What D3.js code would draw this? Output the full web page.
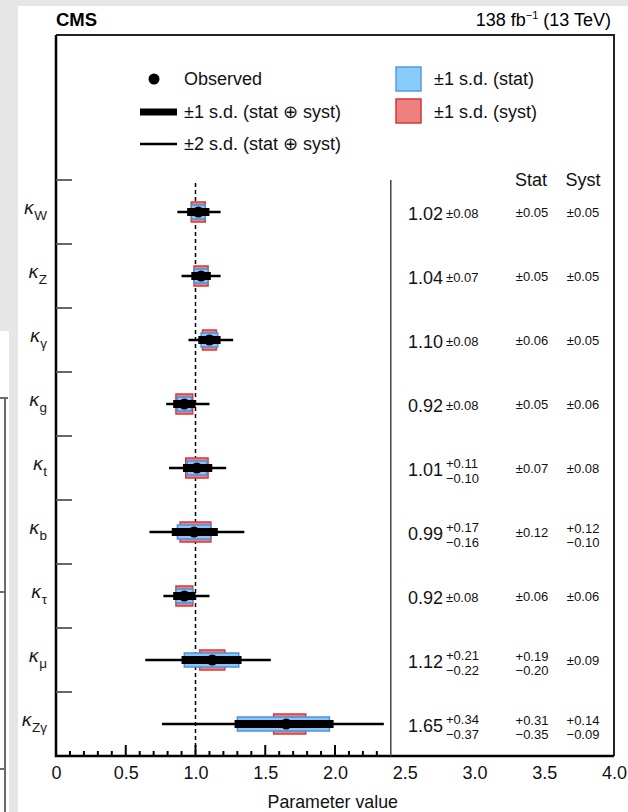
<!DOCTYPE html>
<html>
<head>
<meta charset="utf-8">
<title>Coupling modifiers</title>
<script src="https://cdn.jsdelivr.net/npm/d3@7"></script>
<style>
  body { margin: 0; background: #e6e6e6; }
  svg { display: block; font-family: "Liberation Sans", Arial, Helvetica, sans-serif; }
</style>
</head>
<body>
<div id="chart"></div>
<script>
// coupling modifiers (subscript of kappa), top to bottom
var params  = ["W", "Z", "γ", "g", "t", "b", "τ", "μ", "Zγ"];
var central = [1.02, 1.04, 1.10, 0.92, 1.01, 0.99, 0.92, 1.12, 1.65];
// total (stat + syst) 1 s.d.
var totUp   = [0.08, 0.07, 0.08, 0.08, 0.11, 0.17, 0.08, 0.21, 0.34];
var totDn   = [0.08, 0.07, 0.08, 0.08, 0.10, 0.16, 0.08, 0.22, 0.37];
var statUp  = [0.05, 0.05, 0.06, 0.05, 0.07, 0.12, 0.06, 0.19, 0.31];
var statDn  = [0.05, 0.05, 0.06, 0.05, 0.07, 0.12, 0.06, 0.20, 0.35];
var systUp  = [0.05, 0.05, 0.05, 0.06, 0.08, 0.12, 0.06, 0.09, 0.14];
var systDn  = [0.05, 0.05, 0.05, 0.06, 0.08, 0.10, 0.06, 0.09, 0.09];
// 2 s.d. interval edges
var lo2     = [0.87, 0.90, 0.95, 0.79, 0.81, 0.67, 0.77, 0.64, 0.76];
var hi2     = [1.18, 1.18, 1.27, 1.10, 1.22, 1.35, 1.10, 1.54, 2.35];
var xTicks  = [0, 0.5, 1.0, 1.5, 2.0, 2.5, 3.0, 3.5, 4.0];

var W = 628, H = 812;
var frame = {left: 56, right: 614, top: 35, bottom: 756};

var svg = d3.select("#chart").append("svg")
    .attr("width", W).attr("height", H);

// screenshot background: grey page, white panel, bits of another window
svg.append("rect").attr("width", W).attr("height", H).attr("fill", "#e6e6e6");
svg.append("rect").attr("x", 18).attr("y", 6).attr("width", W - 18).attr("height", H - 6).attr("fill", "#fff");
svg.append("rect").attr("x", 0).attr("y", 331).attr("width", 9).attr("height", H - 331).attr("fill", "#fff");
svg.append("path").attr("d", "M0,398H8M5,398V812M0,592H5M0,769H5")
    .attr("stroke", "#6b6b6b").attr("stroke-width", 2).attr("fill", "none");

var x = d3.scaleLinear().domain([0, 4]).range([frame.left, frame.right]);
var y = d3.scaleBand().domain(params).range([180, frame.bottom]);
var yc = function(p) { return y(p) + y.bandwidth() / 2; };

var fmt = d3.format(".2f");
var minus = "\u2212";

// header
svg.append("text").attr("x", 56).attr("y", 26)
    .attr("font-size", 18.5).attr("font-weight", "bold").text("CMS");
var lumi = svg.append("text").attr("x", 611).attr("y", 26)
    .attr("text-anchor", "end").attr("font-size", 18);
lumi.append("tspan").text("138 fb");
lumi.append("tspan").attr("font-size", 11).attr("dy", -7).text(minus + "1");
lumi.append("tspan").attr("dy", 7).text(" (13 TeV)");

// frame
svg.append("path")
    .attr("d", "M" + frame.left + "," + frame.top + "H" + frame.right + "V" + frame.bottom)
    .attr("stroke", "#222").attr("stroke-width", 2).attr("fill", "none");
svg.append("path")
    .attr("d", "M" + frame.left + "," + frame.top + "V" + frame.bottom + "H" + frame.right)
    .attr("stroke", "#000").attr("stroke-width", 2.5).attr("fill", "none");

// y ticks at row boundaries
svg.selectAll(".ytick").data(params).enter().append("line")
    .attr("x1", frame.left).attr("x2", 72)
    .attr("y1", function(d) { return y(d); }).attr("y2", function(d) { return y(d); })
    .attr("stroke", "#555").attr("stroke-width", 1.8);

// y labels: kappa with subscript
var lab = svg.selectAll(".ylab").data(params).enter().append("text")
    .attr("x", 47).attr("y", function(d) { return yc(d) + 2; })
    .attr("text-anchor", "end").attr("fill", "#1a1a1a");
lab.append("tspan").attr("font-size", 18).attr("font-family", "DejaVu Sans, sans-serif")
    .attr("font-style", "oblique").text("κ");
lab.append("tspan").attr("font-size", 13.5).attr("dy", 6).text(function(d) { return d; });

// x ticks
var minor = d3.range(1, 24).map(function(i) { return i / 10; }).filter(function(v) { return Math.round(v * 10) % 5 !== 0; });
var major = [0.5, 1.0, 1.5, 2.0];
svg.selectAll(".minor").data(minor).enter().append("line")
    .attr("x1", function(d) { return x(d); }).attr("x2", function(d) { return x(d); })
    .attr("y1", frame.bottom).attr("y2", frame.bottom - 5)
    .attr("stroke", "#000").attr("stroke-width", 2);
svg.selectAll(".major").data(major).enter().append("line")
    .attr("x1", function(d) { return x(d); }).attr("x2", function(d) { return x(d); })
    .attr("y1", frame.bottom).attr("y2", frame.bottom - 11)
    .attr("stroke", "#000").attr("stroke-width", 2);

var xAxis = svg.append("g").attr("transform", "translate(0," + frame.bottom + ")")
    .call(d3.axisBottom(x).tickValues(xTicks).tickSize(0).tickPadding(10)
        .tickFormat(function(d) { return d === 0 ? "0" : d3.format(".1f")(d); }));
xAxis.select(".domain").remove();
xAxis.selectAll("text").attr("font-size", 18).attr("fill", "#111")
    .attr("font-family", "Liberation Sans, Arial, sans-serif");

svg.append("text").attr("x", 398).attr("y", 808).attr("text-anchor", "end")
    .attr("font-size", 17.8).attr("fill", "#111").text("Parameter value");

// SM reference line and separator
svg.append("line").attr("x1", x(1)).attr("x2", x(1)).attr("y1", 183).attr("y2", frame.bottom)
    .attr("stroke", "#000").attr("stroke-width", 1.5).attr("stroke-dasharray", "4,3");
svg.append("line").attr("x1", x(2.4)).attr("x2", x(2.4)).attr("y1", 180).attr("y2", frame.bottom)
    .attr("stroke", "#444").attr("stroke-width", 1.5);

// marks
var rows = svg.selectAll(".row").data(params).enter().append("g").attr("class", "row");
rows.append("rect")
    .attr("x", function(d, i) { return x(central[i] - systDn[i]); })
    .attr("width", function(d, i) { return x(central[i] + systUp[i]) - x(central[i] - systDn[i]); })
    .attr("y", function(d) { return yc(d) - 10; }).attr("height", 20)
    .attr("fill", "#ee8080").attr("stroke", "#d23c3c").attr("stroke-width", 1.5);
rows.append("rect")
    .attr("x", function(d, i) { return x(central[i] - statDn[i]); })
    .attr("width", function(d, i) { return x(central[i] + statUp[i]) - x(central[i] - statDn[i]); })
    .attr("y", function(d) { return yc(d) - 7; }).attr("height", 14)
    .attr("fill", "#88c6f6").attr("stroke", "#4f8ee0").attr("stroke-width", 1.5);
rows.append("line")
    .attr("x1", function(d, i) { return x(lo2[i]); }).attr("x2", function(d, i) { return x(hi2[i]); })
    .attr("y1", yc).attr("y2", yc)
    .attr("stroke", "#000").attr("stroke-width", 2.5);
rows.append("line")
    .attr("x1", function(d, i) { return x(central[i] - totDn[i]); })
    .attr("x2", function(d, i) { return x(central[i] + totUp[i]); })
    .attr("y1", yc).attr("y2", yc)
    .attr("stroke", "#000").attr("stroke-width", 8);
rows.append("circle")
    .attr("cx", function(d, i) { return x(central[i]); }).attr("cy", yc).attr("r", 5.5)
    .attr("fill", "#000");

// uncertainty text: "±a" or stacked +up / -dn
function unc(g, xPos, yMid, up, dn, anchor, supOff, subOff) {
  if (up === dn) {
    g.append("text").attr("x", xPos).attr("y", yMid).attr("dy", "0.35em")
        .attr("text-anchor", anchor).attr("font-size", 13).text("±" + fmt(up));
  } else {
    g.append("text").attr("x", xPos).attr("y", yMid + supOff).attr("dy", "0.35em")
        .attr("text-anchor", anchor).attr("font-size", 13).text("+" + fmt(up));
    g.append("text").attr("x", xPos).attr("y", yMid + subOff).attr("dy", "0.35em")
        .attr("text-anchor", anchor).attr("font-size", 13).text(minus + fmt(dn));
  }
}

var table = svg.append("g").attr("fill", "#111");
table.append("text").attr("x", 531).attr("y", 180).attr("dy", "0.35em")
    .attr("text-anchor", "middle").attr("font-size", 18).text("Stat");
table.append("text").attr("x", 583).attr("y", 180).attr("dy", "0.35em")
    .attr("text-anchor", "middle").attr("font-size", 18).text("Syst");

params.forEach(function(p, i) {
  var c = yc(p);
  table.append("text").attr("x", 443).attr("y", c + 2).attr("dy", "0.35em")
      .attr("text-anchor", "end").attr("font-size", 18).text(fmt(central[i]));
  unc(table, 446, c + 1, totUp[i], totDn[i], "start", -6, 9);
  unc(table, 532, c, statUp[i], statDn[i], "middle", -4, 10);
  unc(table, 583, c, systUp[i], systDn[i], "middle", -4, 10);
});

// legend
var leg = svg.append("g").attr("fill", "#111");
leg.append("circle").attr("cx", 154).attr("cy", 79).attr("r", 5.5).attr("fill", "#000");
leg.append("line").attr("x1", 140).attr("x2", 177).attr("y1", 112).attr("y2", 112)
    .attr("stroke", "#000").attr("stroke-width", 7);
leg.append("line").attr("x1", 140).attr("x2", 177).attr("y1", 144).attr("y2", 144)
    .attr("stroke", "#000").attr("stroke-width", 2.5);
leg.append("rect").attr("x", 396).attr("y", 67).attr("width", 25).attr("height", 24)
    .attr("fill", "#88ccfa").attr("stroke", "#5b98e2").attr("stroke-width", 1.5);
leg.append("rect").attr("x", 396).attr("y", 99).attr("width", 25).attr("height", 24)
    .attr("fill", "#ef8080").attr("stroke", "#d03a3a").attr("stroke-width", 1.5);

var legText = [
  {x: 184, y: 79, t: "Observed"},
  {x: 184, y: 112, t: "±1 s.d. (stat ⊕ syst)"},
  {x: 184, y: 144, t: "±2 s.d. (stat ⊕ syst)"},
  {x: 434, y: 79, t: "±1 s.d. (stat)"},
  {x: 434, y: 112, t: "±1 s.d. (syst)"}
];
leg.selectAll(".lt").data(legText).enter().append("text")
    .attr("x", function(d) { return d.x; }).attr("y", function(d) { return d.y; })
    .attr("dy", "0.35em").attr("font-size", 18).text(function(d) { return d.t; });
</script>
</body>
</html>
